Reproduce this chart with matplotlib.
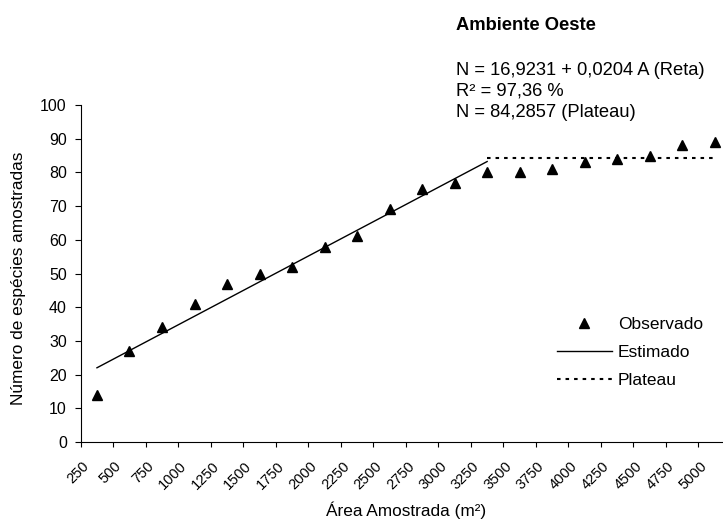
import matplotlib.pyplot as plt
import matplotlib.transforms as mtransforms
import numpy as np

plt.rcParams['font.family'] = ['Liberation Sans', 'DejaVu Sans']

areas = [250, 500, 750, 1000, 1250, 1500, 1750, 2000, 2250, 2500,
         2750, 3000, 3250, 3500, 3750, 4000, 4250, 4500, 4750, 5000]
observado = [14, 27, 34, 41, 47, 50, 52, 58, 61, 69,
             75, 77, 80, 80, 81, 83, 84, 85, 88, 89]

# reta + plateau
b0 = 16.9231
b1 = 0.0204
plateau = 84.2857
juncao = 3250

pos = np.arange(len(areas))
areas_arr = np.array(areas)
reta_mask = areas_arr <= juncao
plat_mask = areas_arr >= juncao
estimado = b0 + b1 * areas_arr[reta_mask]

fig = plt.figure(figsize=(7.23, 5.22), dpi=100)
ax = fig.add_axes([80.7 / 723, 80 / 522, (731 - 80.7) / 723, 337 / 522])

ax.plot(pos, observado, linestyle='none', marker='^', color='black',
        markersize=7.5, label='Observado', zorder=3)
ax.plot(pos[reta_mask], estimado, color='black', lw=1.0, label='Estimado')
ax.plot(pos[plat_mask], [plateau] * plat_mask.sum(), color='black', lw=1.5,
        linestyle=(0, (1.7, 2.4)), label='Plateau')

ax.set_xlim(-0.5, len(areas) - 0.5)
ax.set_ylim(0, 100)
ax.set_yticks(range(0, 101, 10))
ax.tick_params(axis='y', direction='out', length=4, width=0.8, labelsize=11.5, pad=6)

# categorias: marcas nos limites, rotulos no centro
ax.set_xticks(pos)
ax.set_xticklabels([str(a) for a in areas], rotation=45, ha='right', va='center',
                   rotation_mode='anchor', fontsize=10.5)
ax.set_xticks(np.arange(-0.5, len(areas), 1), minor=True)
ax.tick_params(axis='x', which='major', length=0, pad=16)
ax.tick_params(axis='x', which='minor', direction='out', length=3.5, width=0.8)
shift = mtransforms.ScaledTranslation(-10 / 100, 0, fig.dpi_scale_trans)
for lab in ax.get_xticklabels():
    lab.set_transform(lab.get_transform() + shift)

for s in ['top', 'right']:
    ax.spines[s].set_visible(False)
for s in ['left', 'bottom']:
    ax.spines[s].set_linewidth(0.8)

fig.text(18.5 / 723, 1 - 278 / 522, 'Número de espécies amostradas', rotation=90,
         ha='center', va='center', fontsize=12.4)
fig.text(406 / 723, 1 - 510 / 522, 'Área Amostrada (m²)', ha='center',
         va='center', fontsize=12.4)

fig.text(456 / 723, 1 - 30 / 522, 'Ambiente Oeste', fontweight='bold',
         ha='left', va='baseline', fontsize=13.2)
eq = ['N = 16,9231 + 0,0204 A (Reta)', 'R² = 97,36 %', 'N = 84,2857 (Plateau)']
for i, t in enumerate(eq):
    fig.text(456 / 723, 1 - (75 + 21 * i) / 522, t, ha='left', va='baseline',
             fontsize=13.2)

ax.legend(loc='center left', bbox_to_anchor=(557 / 723, 1 - 352 / 522),
          bbox_transform=fig.transFigure, frameon=False, fontsize=12.5,
          handlelength=3.16, handletextpad=0.35, labelspacing=0.74,
          borderaxespad=0, borderpad=0)

fig.savefig('out.png', dpi=100)
